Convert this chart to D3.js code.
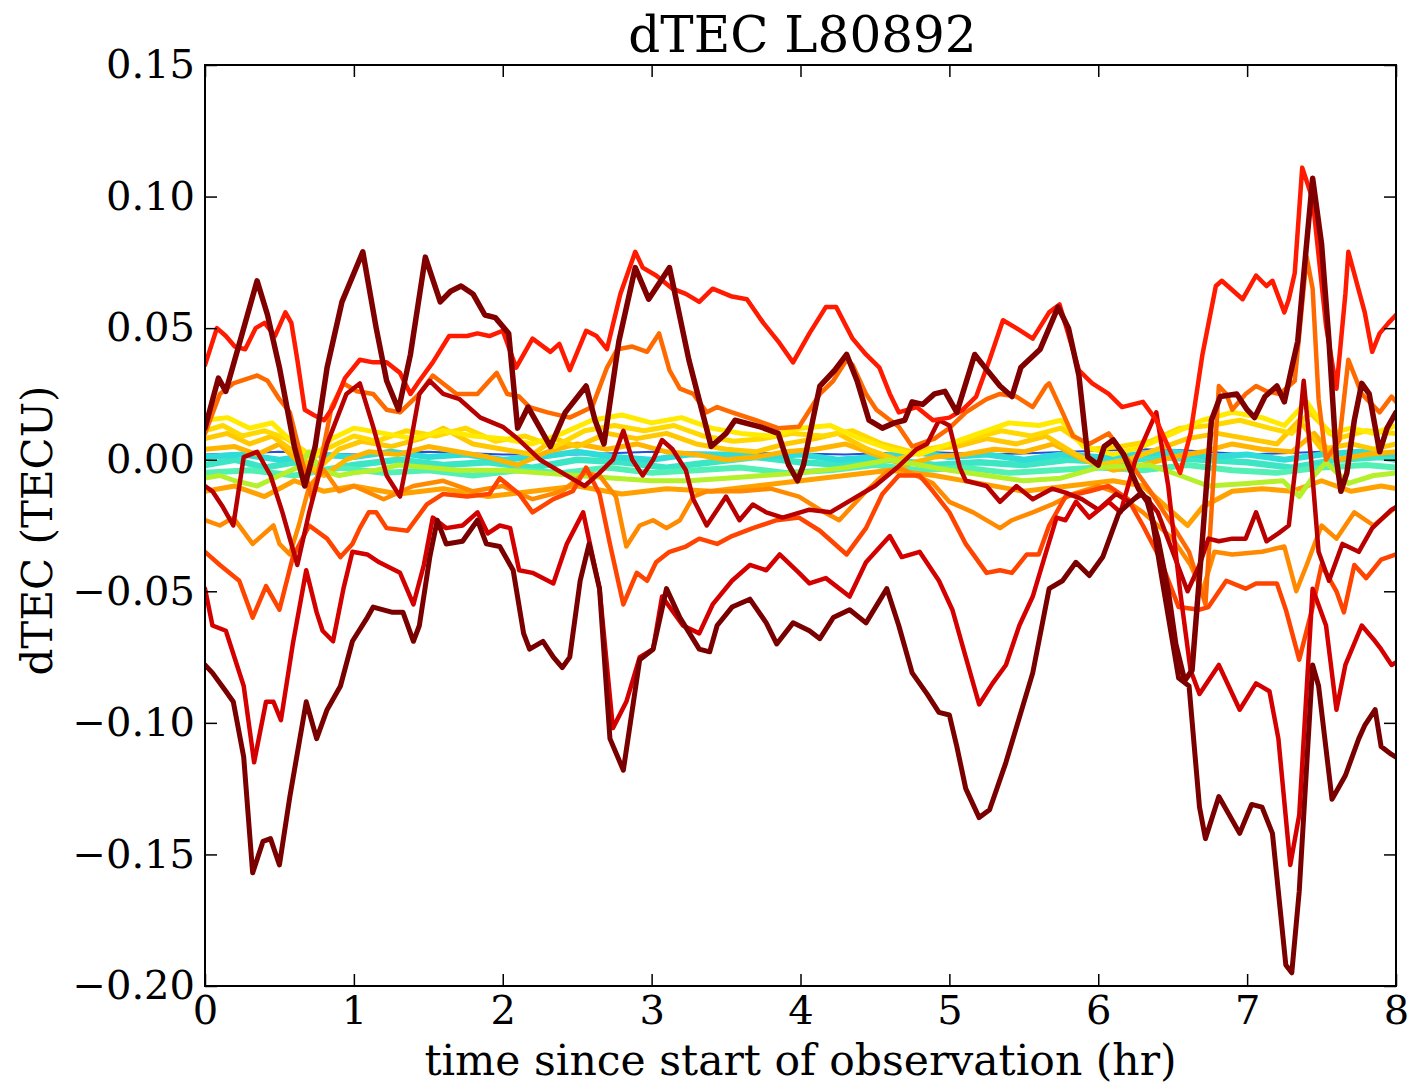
<!DOCTYPE html>
<html>
<head>
<meta charset="utf-8">
<script src="https://cdn.jsdelivr.net/npm/d3@7"></script>
<style>
  body { margin: 0; background: #fff; }
  svg { display: block; }
  text { font-family: "DejaVu Serif", serif; fill: #000; }
</style>
</head>
<body>
<svg id="chart" width="1415" height="1085"></svg>
<script>
// ---- axis ticks ----
const xTicks = [0, 1, 2, 3, 4, 5, 6, 7, 8];
const yTicks = [0.15, 0.10, 0.05, 0.00, -0.05, -0.10, -0.15, -0.20];

// ---- dTEC per station: [hours, TECU] ----
const stBlue = [[0,0.002],[0.5,0.003],[1,0.002],[1.5,0.003],[2,0.002],[2.5,0.002],[3,0.003],[3.5,0.0025],[3.9,0.0025],[4.3,0.002],[4.8,0.003],[5.3,0.002],[5.8,0.003],[6.3,0.004],[6.6,0.0035],[7,0.002],[7.5,0.003],[8,0.002]];

const stCyanA = [[0,-0.002],[0.2,0.0],[0.4,-0.003],[0.6,-0.001],[0.8,-0.004],[1.0,-0.002],[1.3,0.0],[1.6,-0.002],[1.9,-0.001],[2.2,-0.003],[2.5,0.0],[2.8,-0.001],[3.1,-0.003],[3.4,-0.001],[3.7,0.001],[4.0,-0.001],[4.3,-0.002],[4.6,0.0],[4.9,-0.002],[5.2,-0.001],[5.5,-0.002],[5.8,0.0],[6.1,-0.001],[6.4,0.001],[6.7,0.0],[7.0,-0.001],[7.3,-0.003],[7.6,0.0],[7.9,0.001],[8.0,0.0]];

const stCyanB = [[0,0.001],[0.25,0.002],[0.5,0.0],[0.75,0.002],[1.0,0.001],[1.25,0.003],[1.5,0.001],[1.75,0.002],[2.0,0.0],[2.25,0.001],[2.5,0.003],[2.75,0.001],[3.0,0.0],[3.25,0.002],[3.5,0.002],[3.75,0.001],[4.0,0.002],[4.25,0.0],[4.5,0.001],[4.75,0.003],[5.0,0.001],[5.25,0.002],[5.5,0.0],[5.75,0.002],[6.0,0.001],[6.25,0.002],[6.5,0.003],[6.75,0.001],[7.0,0.002],[7.25,0.0],[7.5,0.002],[7.75,0.003],[8.0,0.002]];

const stCyanC = [[0,-0.005],[0.3,-0.004],[0.6,-0.006],[0.9,-0.003],[1.2,-0.005],[1.5,-0.004],[1.8,-0.006],[2.1,-0.004],[2.4,-0.005],[2.7,-0.003],[3.0,-0.005],[3.3,-0.004],[3.6,-0.003],[3.9,-0.005],[4.2,-0.004],[4.5,-0.002],[4.8,-0.004],[5.1,-0.003],[5.4,-0.005],[5.7,-0.004],[6.0,-0.003],[6.3,-0.004],[6.6,-0.002],[6.9,-0.004],[7.2,-0.005],[7.5,-0.003],[7.8,-0.002],[8.0,-0.003]];

const stLime = [[0,-0.007],[0.1,-0.006],[0.2,-0.008],[0.35,-0.01],[0.5,-0.006],[0.62,-0.003],[0.7,0.003],[0.78,-0.004],[0.9,-0.006],[1.0,-0.005],[1.15,-0.004],[1.3,-0.002],[1.5,-0.003],[1.7,-0.004],[2.0,-0.004],[2.25,-0.005],[2.5,-0.006],[2.75,-0.007],[3.0,-0.008],[3.25,-0.008],[3.5,-0.007],[3.75,-0.006],[4.0,-0.005],[4.3,-0.003],[4.6,0.0],[4.8,-0.002],[5.0,-0.004],[5.25,-0.006],[5.5,-0.008],[5.75,-0.007],[6.0,-0.003],[6.34,-0.002],[6.55,-0.006],[6.74,-0.01],[7.0,-0.009],[7.24,-0.008],[7.35,-0.014],[7.45,-0.006],[7.53,-0.001],[7.68,-0.009],[7.85,-0.006],[8.0,-0.005]];

const stYellow = [[0,0.015],[0.15,0.016],[0.3,0.012],[0.45,0.014],[0.6,0.006],[0.72,0.0],[0.85,0.008],[1.0,0.012],[1.2,0.01],[1.4,0.008],[1.6,0.011],[1.8,0.009],[2.0,0.008],[2.2,0.006],[2.4,0.01],[2.6,0.015],[2.8,0.017],[3.0,0.014],[3.2,0.016],[3.4,0.012],[3.6,0.01],[3.8,0.009],[4.0,0.012],[4.2,0.013],[4.4,0.008],[4.6,0.004],[4.8,0.002],[5.0,0.006],[5.2,0.01],[5.4,0.014],[5.6,0.013],[5.75,0.015],[5.9,0.005],[6.1,0.002],[6.3,0.005],[6.5,0.01],[6.7,0.015],[6.9,0.018],[7.1,0.016],[7.25,0.013],[7.4,0.022],[7.55,0.01],[7.7,0.012],[7.85,0.01],[8.0,0.013]];

const stLemon = [[0,0.011],[0.12,0.013],[0.25,0.009],[0.4,0.011],[0.55,0.008],[0.7,0.002],[0.85,0.005],[1.0,0.009],[1.15,0.007],[1.35,0.011],[1.55,0.009],[1.75,0.012],[1.95,0.007],[2.15,0.009],[2.35,0.005],[2.55,0.011],[2.75,0.013],[2.95,0.011],[3.15,0.013],[3.35,0.009],[3.55,0.007],[3.75,0.008],[3.95,0.01],[4.15,0.009],[4.35,0.011],[4.55,0.006],[4.75,0.003],[4.95,0.005],[5.15,0.008],[5.35,0.011],[5.55,0.009],[5.75,0.012],[5.95,0.004],[6.15,0.005],[6.35,0.007],[6.55,0.012],[6.75,0.013],[6.95,0.015],[7.15,0.012],[7.3,0.01],[7.42,0.018],[7.6,0.008],[7.8,0.011],[8.0,0.01]];

const stGold = [[0,0.008],[0.15,0.01],[0.3,0.006],[0.45,0.009],[0.6,0.003],[0.75,-0.004],[0.9,0.004],[1.05,0.007],[1.25,0.005],[1.45,0.008],[1.6,0.012],[1.8,0.006],[2.0,0.004],[2.2,0.002],[2.35,0.008],[2.5,0.005],[2.7,0.01],[2.9,0.008],[3.1,0.01],[3.3,0.006],[3.5,0.004],[3.7,0.003],[3.9,0.006],[4.1,0.008],[4.25,0.01],[4.45,0.004],[4.65,0.0],[4.85,0.004],[5.05,0.005],[5.25,0.008],[5.45,0.006],[5.65,0.009],[5.85,0.002],[6.0,-0.002],[6.2,0.0],[6.4,0.004],[6.6,0.008],[6.8,0.01],[7.0,0.008],[7.2,0.006],[7.35,0.015],[7.5,0.004],[7.7,0.006],[7.85,0.004],[8.0,0.006]];

const stAmber = [[0,0.004],[0.2,0.005],[0.35,0.002],[0.5,0.006],[0.65,-0.002],[0.8,-0.006],[0.95,0.0],[1.1,0.003],[1.3,0.002],[1.5,0.005],[1.7,0.003],[1.9,0.001],[2.1,-0.002],[2.3,0.003],[2.5,0.006],[2.7,0.004],[2.9,0.006],[3.1,0.003],[3.3,0.002],[3.5,0.0],[3.7,0.001],[3.9,0.003],[4.1,0.004],[4.3,0.006],[4.5,0.002],[4.7,-0.002],[4.9,0.001],[5.1,0.002],[5.3,0.004],[5.5,0.003],[5.7,0.006],[5.9,0.0],[6.1,-0.004],[6.3,-0.002],[6.5,0.001],[6.7,0.003],[6.9,0.006],[7.1,0.004],[7.3,0.003],[7.45,0.01],[7.6,0.0],[7.8,0.002],[8.0,0.003]];

const stAmberLow = [[0,-0.012],[0.2,-0.01],[0.4,-0.014],[0.6,-0.008],[0.8,-0.012],[1.0,-0.01],[1.3,-0.013],[1.6,-0.011],[1.9,-0.014],[2.2,-0.012],[2.5,-0.01],[2.8,-0.013],[3.1,-0.011],[3.4,-0.012],[3.7,-0.01],[4.0,-0.008],[4.3,-0.006],[4.6,-0.004],[4.9,-0.006],[5.2,-0.009],[5.5,-0.012],[5.8,-0.01],[6.1,-0.008],[6.3,-0.01],[6.5,-0.02],[6.6,-0.025],[6.7,-0.018],[6.9,-0.012],[7.1,-0.011],[7.3,-0.012],[7.5,-0.008],[7.7,-0.012],[7.9,-0.01],[8.0,-0.011]];

const stOrangeLow = [[0,-0.023],[0.1,-0.025],[0.19,-0.022],[0.32,-0.032],[0.46,-0.025],[0.5,-0.032],[0.57,-0.036],[0.63,-0.025],[0.7,-0.01],[0.8,-0.004],[0.9,-0.012],[1.0,-0.01],[1.2,-0.015],[1.4,-0.01],[1.6,-0.008],[1.8,-0.012],[2.0,-0.01],[2.2,-0.015],[2.4,-0.012],[2.55,-0.005],[2.65,-0.006],[2.76,-0.014],[2.83,-0.033],[2.92,-0.025],[3.01,-0.023],[3.1,-0.026],[3.19,-0.023],[3.28,-0.014],[3.37,-0.012],[3.6,-0.012],[3.8,-0.011],[3.99,-0.014],[4.13,-0.019],[4.26,-0.023],[4.44,-0.012],[4.58,-0.0045],[4.66,-0.003],[4.89,-0.009],[5.0,-0.016],[5.16,-0.02],[5.34,-0.026],[5.42,-0.023],[5.56,-0.02],[5.69,-0.017],[5.83,-0.013],[6.0,-0.01],[6.1,-0.012],[6.3,-0.02],[6.5,-0.03],[6.62,-0.04],[6.7,-0.05],[6.78,-0.035],[6.9,-0.036],[7.1,-0.035],[7.25,-0.033],[7.33,-0.05],[7.4,-0.04],[7.5,-0.025],[7.6,-0.03],[7.72,-0.02],[7.85,-0.025],[8.0,-0.018]];

const stOrangeHigh = [[0,0.01],[0.1,0.025],[0.19,0.029],[0.35,0.032],[0.42,0.03],[0.5,0.023],[0.57,0.018],[0.65,0.0],[0.72,-0.015],[0.78,0.0],[0.85,0.02],[0.93,0.029],[1.02,0.026],[1.13,0.025],[1.22,0.019],[1.31,0.018],[1.44,0.025],[1.53,0.032],[1.69,0.025],[1.83,0.025],[1.91,0.03],[1.96,0.033],[2.03,0.025],[2.11,0.024],[2.18,0.02],[2.3,0.018],[2.45,0.016],[2.6,0.02],[2.7,0.035],[2.77,0.042],[2.87,0.043],[2.97,0.041],[3.05,0.048],[3.12,0.034],[3.19,0.027],[3.28,0.025],[3.37,0.018],[3.44,0.02],[3.54,0.018],[3.7,0.015],[3.85,0.012],[3.99,0.0125],[4.13,0.025],[4.22,0.03],[4.31,0.038],[4.35,0.036],[4.44,0.025],[4.51,0.019],[4.66,0.0125],[4.75,0.005],[4.9,0.008],[5.0,0.012],[5.11,0.018],[5.25,0.023],[5.34,0.025],[5.45,0.024],[5.56,0.02],[5.65,0.028],[5.67,0.029],[5.76,0.018],[5.83,0.009],[5.94,0.006],[6.07,0.01],[6.2,0.0],[6.35,-0.012],[6.5,-0.025],[6.61,-0.035],[6.72,-0.055],[6.76,-0.02],[6.81,0.028],[6.86,0.025],[6.9,0.019],[6.99,0.025],[7.06,0.028],[7.13,0.026],[7.22,0.025],[7.32,0.03],[7.4,0.077],[7.44,0.065],[7.48,0.023],[7.53,0.0],[7.62,0.0075],[7.68,0.038],[7.77,0.025],[7.89,0.018],[7.97,0.024],[8.0,0.022]];

const stRedOrange = [[0,-0.035],[0.1,-0.04],[0.23,-0.046],[0.32,-0.06],[0.41,-0.048],[0.5,-0.057],[0.59,-0.037],[0.7,-0.025],[0.82,-0.03],[0.91,-0.037],[0.99,-0.032],[1.04,-0.026],[1.1,-0.02],[1.15,-0.02],[1.22,-0.026],[1.36,-0.027],[1.49,-0.017],[1.6,-0.013],[1.76,-0.014],[1.91,-0.013],[1.98,-0.007],[2.11,-0.013],[2.2,-0.02],[2.34,-0.015],[2.47,-0.012],[2.56,-0.003],[2.65,-0.013],[2.72,-0.032],[2.81,-0.055],[2.9,-0.043],[2.97,-0.046],[3.03,-0.039],[3.12,-0.035],[3.23,-0.033],[3.32,-0.03],[3.44,-0.032],[3.54,-0.029],[3.68,-0.026],[3.84,-0.023],[3.99,-0.022],[4.13,-0.027],[4.31,-0.036],[4.44,-0.026],[4.55,-0.013],[4.66,-0.006],[4.8,-0.006],[4.89,-0.012],[5.0,-0.02],[5.11,-0.032],[5.25,-0.043],[5.34,-0.042],[5.42,-0.043],[5.52,-0.036],[5.6,-0.036],[5.67,-0.025],[5.78,-0.014],[5.94,-0.012],[6.07,-0.01],[6.2,-0.015],[6.3,-0.025],[6.41,-0.037],[6.54,-0.056],[6.68,-0.057],[6.74,-0.056],[6.86,-0.046],[6.99,-0.049],[7.06,-0.047],[7.2,-0.047],[7.26,-0.057],[7.35,-0.076],[7.44,-0.056],[7.5,-0.04],[7.6,-0.05],[7.65,-0.058],[7.72,-0.04],[7.8,-0.045],[7.9,-0.038],[8.0,-0.036]];

const stCrimson = [[0,-0.01],[0.05,-0.012],[0.12,-0.018],[0.19,-0.025],[0.26,0.001],[0.35,0.003],[0.44,-0.006],[0.52,-0.02],[0.62,-0.04],[0.7,-0.02],[0.82,0.006],[0.95,0.025],[1.04,0.029],[1.13,0.0125],[1.22,-0.006],[1.31,-0.014],[1.38,0.006],[1.44,0.025],[1.51,0.03],[1.6,0.025],[1.71,0.023],[1.85,0.016],[2.0,0.0125],[2.1,0.008],[2.25,0.0],[2.4,-0.005],[2.55,-0.01],[2.65,-0.005],[2.74,0.0],[2.81,0.011],[2.87,0.0],[2.94,-0.006],[3.01,0.0],[3.07,0.0075],[3.14,0.004],[3.23,-0.004],[3.28,-0.015],[3.37,-0.025],[3.5,-0.014],[3.59,-0.023],[3.68,-0.017],[3.77,-0.02],[3.88,-0.022],[4.06,-0.019],[4.2,-0.02],[4.35,-0.015],[4.5,-0.01],[4.65,-0.003],[4.78,0.004],[4.85,0.006],[4.93,0.015],[5.0,0.013],[5.07,-0.003],[5.11,-0.008],[5.25,-0.01],[5.34,-0.016],[5.45,-0.01],[5.56,-0.015],[5.69,-0.011],[5.78,-0.0125],[5.89,-0.015],[6.0,-0.019],[6.12,-0.013],[6.21,-0.016],[6.3,-0.013],[6.4,-0.02],[6.5,-0.035],[6.6,-0.05],[6.68,-0.04],[6.74,-0.03],[6.81,-0.031],[6.9,-0.03],[6.99,-0.03],[7.06,-0.02],[7.13,-0.031],[7.21,-0.028],[7.28,-0.025],[7.33,0.0],[7.38,0.03],[7.43,0.0],[7.48,-0.035],[7.55,-0.046],[7.64,-0.032],[7.75,-0.035],[7.84,-0.026],[7.97,-0.019],[8.0,-0.018]];

const stRedLow = [[0,-0.049],[0.05,-0.063],[0.14,-0.065],[0.26,-0.086],[0.33,-0.115],[0.41,-0.092],[0.46,-0.092],[0.51,-0.099],[0.59,-0.07],[0.68,-0.042],[0.75,-0.058],[0.79,-0.065],[0.86,-0.069],[0.93,-0.049],[0.99,-0.035],[1.09,-0.036],[1.17,-0.039],[1.31,-0.043],[1.4,-0.055],[1.47,-0.04],[1.53,-0.022],[1.62,-0.026],[1.73,-0.025],[1.83,-0.02],[1.9,-0.028],[1.98,-0.025],[2.05,-0.026],[2.11,-0.042],[2.2,-0.043],[2.34,-0.047],[2.43,-0.032],[2.54,-0.02],[2.65,-0.049],[2.74,-0.102],[2.83,-0.092],[2.92,-0.075],[3.01,-0.072],[3.07,-0.052],[3.21,-0.063],[3.32,-0.066],[3.41,-0.055],[3.54,-0.046],[3.66,-0.04],[3.77,-0.042],[3.86,-0.036],[3.99,-0.043],[4.06,-0.047],[4.17,-0.045],[4.33,-0.052],[4.44,-0.039],[4.6,-0.029],[4.68,-0.037],[4.8,-0.035],[4.93,-0.046],[5.02,-0.057],[5.11,-0.075],[5.2,-0.093],[5.29,-0.085],[5.38,-0.078],[5.47,-0.063],[5.56,-0.052],[5.65,-0.035],[5.72,-0.022],[5.78,-0.023],[5.85,-0.016],[5.94,-0.022],[6.07,-0.016],[6.15,-0.02],[6.25,0.0],[6.39,0.018],[6.47,-0.01],[6.55,-0.05],[6.62,-0.08],[6.68,-0.089],[6.81,-0.078],[6.95,-0.095],[7.06,-0.085],[7.15,-0.088],[7.21,-0.106],[7.29,-0.154],[7.35,-0.135],[7.44,-0.049],[7.53,-0.063],[7.6,-0.095],[7.66,-0.078],[7.77,-0.063],[7.86,-0.069],[7.9,-0.072],[7.97,-0.078],[8.0,-0.077]];

const stRedHigh = [[0,0.036],[0.08,0.05],[0.14,0.047],[0.2,0.043],[0.27,0.042],[0.34,0.05],[0.4,0.052],[0.47,0.047],[0.54,0.056],[0.58,0.052],[0.62,0.038],[0.67,0.019],[0.73,0.017],[0.8,0.015],[0.86,0.02],[0.94,0.031],[1.04,0.038],[1.13,0.037],[1.22,0.037],[1.31,0.033],[1.38,0.025],[1.44,0.03],[1.53,0.037],[1.64,0.047],[1.76,0.047],[1.83,0.048],[1.91,0.047],[2.0,0.049],[2.09,0.035],[2.2,0.046],[2.32,0.041],[2.38,0.044],[2.45,0.034],[2.56,0.049],[2.63,0.047],[2.7,0.042],[2.79,0.063],[2.89,0.079],[2.94,0.073],[3.03,0.07],[3.14,0.065],[3.23,0.063],[3.32,0.06],[3.41,0.065],[3.54,0.062],[3.64,0.061],[3.75,0.052],[3.85,0.045],[3.95,0.037],[4.06,0.048],[4.17,0.058],[4.24,0.058],[4.35,0.046],[4.44,0.04],[4.53,0.035],[4.6,0.025],[4.66,0.018],[4.78,0.02],[4.89,0.015],[5.0,0.016],[5.09,0.019],[5.18,0.024],[5.27,0.038],[5.36,0.053],[5.45,0.05],[5.56,0.046],[5.67,0.056],[5.74,0.059],[5.87,0.034],[5.96,0.029],[6.07,0.025],[6.16,0.02],[6.3,0.022],[6.39,0.015],[6.47,0.005],[6.55,-0.005],[6.62,0.01],[6.7,0.04],[6.79,0.066],[6.83,0.068],[6.97,0.061],[7.06,0.07],[7.13,0.066],[7.17,0.068],[7.25,0.056],[7.28,0.061],[7.32,0.071],[7.37,0.111],[7.44,0.099],[7.53,0.051],[7.6,0.027],[7.66,0.063],[7.68,0.079],[7.79,0.056],[7.84,0.041],[7.89,0.048],[7.95,0.052],[8.0,0.055]];

const stMaroonLow = [[0,-0.078],[0.05,-0.081],[0.14,-0.088],[0.19,-0.092],[0.26,-0.113],[0.32,-0.157],[0.39,-0.145],[0.44,-0.144],[0.5,-0.154],[0.57,-0.128],[0.68,-0.092],[0.75,-0.106],[0.82,-0.095],[0.91,-0.086],[0.99,-0.069],[1.09,-0.06],[1.13,-0.056],[1.26,-0.058],[1.33,-0.058],[1.4,-0.069],[1.44,-0.063],[1.51,-0.037],[1.56,-0.023],[1.62,-0.032],[1.73,-0.031],[1.83,-0.023],[1.89,-0.032],[1.98,-0.033],[2.07,-0.042],[2.14,-0.066],[2.18,-0.072],[2.27,-0.069],[2.34,-0.075],[2.4,-0.079],[2.45,-0.075],[2.52,-0.046],[2.58,-0.032],[2.65,-0.049],[2.72,-0.106],[2.81,-0.118],[2.92,-0.076],[3.01,-0.072],[3.1,-0.049],[3.19,-0.06],[3.32,-0.072],[3.39,-0.073],[3.44,-0.063],[3.54,-0.056],[3.66,-0.053],[3.77,-0.062],[3.84,-0.07],[3.95,-0.062],[4.06,-0.065],[4.13,-0.068],[4.22,-0.06],[4.33,-0.057],[4.44,-0.062],[4.58,-0.049],[4.66,-0.063],[4.75,-0.081],[4.85,-0.089],[4.93,-0.096],[5.0,-0.097],[5.05,-0.109],[5.11,-0.125],[5.2,-0.136],[5.27,-0.133],[5.38,-0.115],[5.47,-0.098],[5.56,-0.081],[5.67,-0.049],[5.76,-0.046],[5.85,-0.039],[5.94,-0.044],[6.03,-0.037],[6.14,-0.02],[6.28,-0.013],[6.34,-0.015],[6.43,-0.046],[6.54,-0.083],[6.61,-0.086],[6.68,-0.132],[6.72,-0.144],[6.81,-0.128],[6.95,-0.142],[7.03,-0.131],[7.1,-0.132],[7.17,-0.142],[7.26,-0.192],[7.3,-0.195],[7.35,-0.164],[7.44,-0.078],[7.48,-0.086],[7.57,-0.129],[7.66,-0.12],[7.75,-0.106],[7.79,-0.101],[7.86,-0.095],[7.9,-0.109],[7.97,-0.112],[8.0,-0.113]];

const stMaroonHigh = [[0,0.012],[0.09,0.031],[0.14,0.026],[0.22,0.042],[0.35,0.068],[0.42,0.055],[0.5,0.035],[0.6,0.005],[0.67,-0.01],[0.74,0.005],[0.82,0.035],[0.92,0.06],[1.06,0.079],[1.15,0.05],[1.22,0.03],[1.3,0.019],[1.38,0.04],[1.48,0.077],[1.58,0.06],[1.65,0.064],[1.72,0.066],[1.8,0.063],[1.88,0.055],[1.95,0.054],[2.04,0.048],[2.1,0.012],[2.17,0.02],[2.25,0.012],[2.32,0.005],[2.42,0.018],[2.56,0.028],[2.62,0.015],[2.68,0.006],[2.78,0.045],[2.89,0.073],[2.98,0.061],[3.12,0.073],[3.25,0.038],[3.4,0.005],[3.5,0.01],[3.56,0.015],[3.73,0.0125],[3.85,0.01],[3.92,-0.002],[3.98,-0.008],[4.02,-0.002],[4.13,0.028],[4.23,0.034],[4.31,0.04],[4.38,0.03],[4.46,0.015],[4.55,0.012],[4.63,0.014],[4.7,0.015],[4.75,0.022],[4.82,0.021],[4.9,0.025],[4.97,0.026],[5.05,0.018],[5.17,0.04],[5.24,0.035],[5.34,0.028],[5.42,0.024],[5.48,0.035],[5.61,0.042],[5.67,0.05],[5.73,0.058],[5.8,0.05],[5.87,0.032],[5.93,0.001],[6.0,-0.002],[6.04,0.005],[6.1,0.0075],[6.17,0.002],[6.27,-0.011],[6.33,-0.016],[6.4,-0.03],[6.47,-0.05],[6.52,-0.07],[6.58,-0.084],[6.63,-0.08],[6.7,-0.03],[6.76,0.015],[6.82,0.024],[6.93,0.025],[7.0,0.019],[7.05,0.016],[7.12,0.024],[7.2,0.028],[7.25,0.022],[7.3,0.035],[7.34,0.045],[7.38,0.07],[7.44,0.107],[7.5,0.082],[7.55,0.045],[7.6,0.0],[7.63,-0.012],[7.67,-0.005],[7.72,0.015],[7.77,0.029],[7.82,0.025],[7.89,0.003],[7.94,0.012],[8.0,0.018]];

// drawing order: quiet stations first, strongest last
const stations = [stBlue, stCyanA, stCyanB, stCyanC, stAmberLow, stAmber, stGold, stLemon, stYellow, stLime,
                  stOrangeLow, stOrangeHigh, stRedOrange, stCrimson, stRedLow, stRedHigh, stMaroonLow, stMaroonHigh];
const stationColors = ["#2050e0", "#3ce6c4", "#30dcd8", "#52f0b4", "#ffa200", "#ffb400", "#ffc800", "#ffd800", "#ffea00", "#b4f02c",
                       "#ff8a00", "#ff6a00", "#ff4400", "#b80000", "#d40000", "#ff1a00", "#7a0000", "#800000"];
const stationWidths = [2, 6.5, 6, 6, 5, 5, 5, 5, 5, 5, 4.5, 4.5, 4.5, 4.5, 4.5, 4.5, 5, 5.5];

// ---- layout ----
const svg = d3.select("#chart");
const plot = { left: 205, top: 65, right: 1396, bottom: 986 };
const x = d3.scaleLinear().domain([0, 8]).range([plot.left, plot.right]);
const y = d3.scaleLinear().domain([-0.20, 0.15]).range([plot.bottom, plot.top]);

svg.append("defs").append("clipPath").attr("id", "plotClip")
  .append("rect")
  .attr("x", plot.left).attr("y", plot.top)
  .attr("width", plot.right - plot.left).attr("height", plot.bottom - plot.top);

const line = d3.line().x(d => x(d[0])).y(d => y(d[1]));

const lines = svg.append("g").attr("clip-path", "url(#plotClip)");
stations.forEach((s, i) => {
  lines.append("path")
    .datum(s)
    .attr("d", line)
    .attr("fill", "none")
    .attr("stroke", stationColors[i])
    .attr("stroke-width", stationWidths[i])
    .attr("stroke-linejoin", "round")
    .attr("stroke-linecap", "round");
});

// ---- axes (inward ticks on all four sides) ----
const tickLen = 12;
const fmtY = d3.format(".2f");
function styleAxis(g, fontSize) {
  g.select(".domain").remove();
  g.selectAll(".tick line").attr("stroke", "#000").attr("stroke-width", 1.5);
  g.selectAll(".tick text").attr("font-size", fontSize).attr("font-family", "DejaVu Serif, serif").attr("fill", "#000");
}

svg.append("g").attr("transform", `translate(0,${plot.bottom})`)
  .call(d3.axisBottom(x).tickValues(xTicks).tickSize(-tickLen).tickPadding(10).tickFormat(d3.format("d")))
  .call(g => styleAxis(g, 40));
svg.append("g").attr("transform", `translate(0,${plot.top})`)
  .call(d3.axisTop(x).tickValues(xTicks).tickSize(-tickLen).tickFormat(""))
  .call(g => styleAxis(g, 40));
svg.append("g").attr("transform", `translate(${plot.left},0)`)
  .call(d3.axisLeft(y).tickValues(yTicks).tickSize(-tickLen).tickPadding(10).tickFormat(fmtY))
  .call(g => styleAxis(g, 40));
svg.append("g").attr("transform", `translate(${plot.right},0)`)
  .call(d3.axisRight(y).tickValues(yTicks).tickSize(-tickLen).tickFormat(""))
  .call(g => styleAxis(g, 40));

// frame
svg.append("rect")
  .attr("x", plot.left).attr("y", plot.top)
  .attr("width", plot.right - plot.left).attr("height", plot.bottom - plot.top)
  .attr("fill", "none").attr("stroke", "#000").attr("stroke-width", 2);

// ---- titles ----
svg.append("text")
  .attr("x", (plot.left + plot.right) / 2 + 2).attr("y", 52)
  .attr("text-anchor", "middle").attr("font-size", 50)
  .text("dTEC L80892");

svg.append("text")
  .attr("x", (plot.left + plot.right) / 2).attr("y", 1075)
  .attr("text-anchor", "middle").attr("font-size", 42.5)
  .text("time since start of observation (hr)");

svg.append("text")
  .attr("transform", `translate(52,${(plot.top + plot.bottom) / 2 + 5}) rotate(-90)`)
  .attr("text-anchor", "middle").attr("font-size", 42)
  .text("dTEC (TECU)");
</script>
</body>
</html>
